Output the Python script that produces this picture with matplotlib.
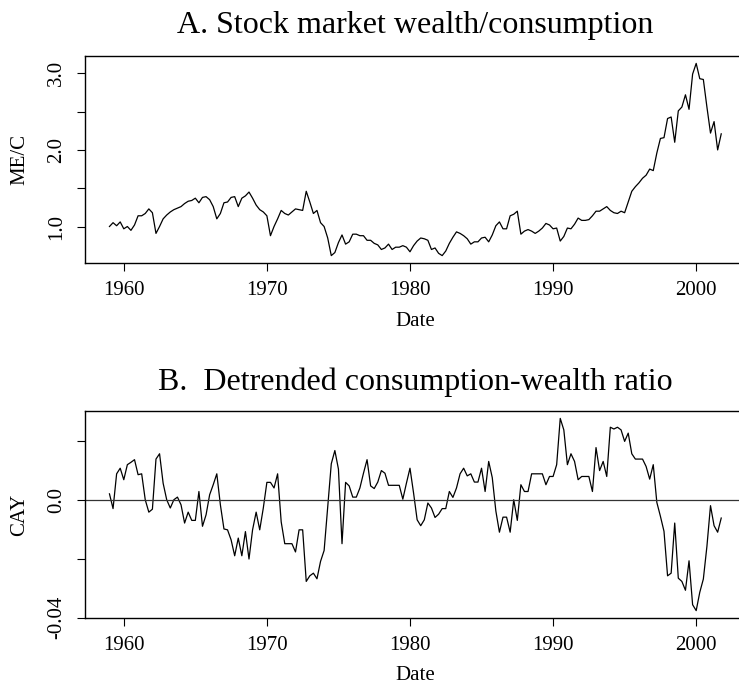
import numpy as np
import matplotlib
matplotlib.use("Agg")
import matplotlib.pyplot as plt

plt.rcParams['font.family'] = ['Liberation Serif', 'DejaVu Serif']

# quarterly data, 1959Q1 - 2001Q4
start_year = 1959

me_c = [
    1.00, 1.05, 1.01, 1.06,   # 1959
    0.97, 1.00, 0.95, 1.02,   # 1960
    1.14, 1.14, 1.17, 1.23,   # 1961
    1.18, 0.91, 1.00, 1.10,   # 1962
    1.15, 1.19, 1.22, 1.24,   # 1963
    1.26, 1.30, 1.33, 1.34,   # 1964
    1.37, 1.31, 1.38, 1.39,   # 1965
    1.35, 1.26, 1.10, 1.17,   # 1966
    1.31, 1.32, 1.38, 1.39,   # 1967
    1.26, 1.37, 1.40, 1.45,   # 1968
    1.37, 1.28, 1.22, 1.19,   # 1969
    1.14, 0.88, 1.00, 1.10,   # 1970
    1.21, 1.17, 1.15, 1.19,   # 1971
    1.23, 1.22, 1.21, 1.46,   # 1972
    1.32, 1.17, 1.21, 1.05,   # 1973
    1.00, 0.85, 0.62, 0.66,   # 1974
    0.79, 0.89, 0.77, 0.80,   # 1975
    0.90, 0.90, 0.88, 0.88,   # 1976
    0.82, 0.82, 0.78, 0.76,   # 1977
    0.70, 0.72, 0.77, 0.70,   # 1978
    0.73, 0.73, 0.75, 0.73,   # 1979
    0.67, 0.75, 0.81, 0.85,   # 1980
    0.84, 0.82, 0.70, 0.72,   # 1981
    0.65, 0.62, 0.68, 0.78,   # 1982
    0.86, 0.93, 0.91, 0.88,   # 1983
    0.84, 0.77, 0.80, 0.80,   # 1984
    0.85, 0.86, 0.80, 0.89,   # 1985
    1.01, 1.06, 0.97, 0.97,   # 1986
    1.14, 1.16, 1.20, 0.90,   # 1987
    0.94, 0.96, 0.94, 0.91,   # 1988
    0.94, 0.98, 1.04, 1.02,   # 1989
    0.97, 0.98, 0.81, 0.87,   # 1990
    0.98, 0.97, 1.03, 1.11,   # 1991
    1.08, 1.08, 1.09, 1.14,   # 1992
    1.20, 1.20, 1.23, 1.26,   # 1993
    1.21, 1.18, 1.17, 1.20,   # 1994
    1.18, 1.32, 1.46, 1.52,   # 1995
    1.57, 1.63, 1.67, 1.75,   # 1996
    1.73, 1.96, 2.15, 2.16,   # 1997
    2.41, 2.43, 2.10, 2.51,   # 1998
    2.56, 2.72, 2.53, 2.99,   # 1999
    3.13, 2.93, 2.92, 2.56,   # 2000
    2.22, 2.37, 2.00, 2.21,   # 2001
]

cay = [
    0.0020, -0.0030, 0.0088, 0.0107,    # 1959
    0.0068, 0.0119, 0.0127, 0.0136,     # 1960
    0.0085, 0.0088, 0.0000, -0.0042,    # 1961
    -0.0032, 0.0138, 0.0156, 0.0056,    # 1962
    0.0000, -0.0028, 0.0000, 0.0009,    # 1963
    -0.0017, -0.0079, -0.0042, -0.0070, # 1964
    -0.0070, 0.0028, -0.0090, -0.0051,  # 1965
    0.0017, 0.0051, 0.0088, -0.0017,    # 1966
    -0.0099, -0.0102, -0.0136, -0.0190, # 1967
    -0.0130, -0.0190, -0.0108, -0.0201, # 1968
    -0.0102, -0.0042, -0.0102, -0.0028, # 1969
    0.0059, 0.0059, 0.0040, 0.0088,     # 1970
    -0.0075, -0.0149, -0.0149, -0.0149, # 1971
    -0.0177, -0.0102, -0.0102, -0.0277, # 1972
    -0.0258, -0.0249, -0.0268, -0.0209, # 1973
    -0.0172, -0.0023, 0.0122, 0.0167,   # 1974
    0.0104, -0.0149, 0.0059, 0.0047,    # 1975
    0.0009, 0.0009, 0.0040, 0.0090,     # 1976
    0.0136, 0.0047, 0.0038, 0.0060,     # 1977
    0.0099, 0.0090, 0.0049, 0.0049,     # 1978
    0.0049, 0.0049, 0.0002, 0.0056,     # 1979
    0.0107, 0.0023, -0.0068, -0.0088,   # 1980
    -0.0068, -0.0011, -0.0028, -0.0060, # 1981
    -0.0049, -0.0030, -0.0030, 0.0028,  # 1982
    0.0008, 0.0040, 0.0088, 0.0107,     # 1983
    0.0081, 0.0088, 0.0060, 0.0060,     # 1984
    0.0107, 0.0028, 0.0130, 0.0075,     # 1985
    -0.0038, -0.0110, -0.0059, -0.0059, # 1986
    -0.0110, 0.0000, -0.0070, 0.0051,   # 1987
    0.0028, 0.0028, 0.0088, 0.0088,     # 1988
    0.0088, 0.0088, 0.0051, 0.0079,     # 1989
    0.0079, 0.0119, 0.0276, 0.0237,     # 1990
    0.0119, 0.0156, 0.0130, 0.0068,     # 1991
    0.0079, 0.0079, 0.0079, 0.0028,     # 1992
    0.0177, 0.0099, 0.0130, 0.0079,     # 1993
    0.0246, 0.0240, 0.0246, 0.0237,     # 1994
    0.0198, 0.0226, 0.0156, 0.0138,     # 1995
    0.0138, 0.0138, 0.0113, 0.0070,     # 1996
    0.0119, -0.0009, -0.0056, -0.0107,  # 1997
    -0.0258, -0.0249, -0.0079, -0.0266, # 1998
    -0.0277, -0.0307, -0.0207, -0.0356, # 1999
    -0.0376, -0.0314, -0.0269, -0.0158, # 2000
    -0.0020, -0.0088, -0.0110, -0.0062, # 2001
]

year_ticks = [1960, 1970, 1980, 1990, 2000]
mec_ticks = [1.0, 1.5, 2.0, 2.5, 3.0]
mec_labels = ['1.0', '', '2.0', '', '3.0']
cay_ticks = [-0.04, -0.02, 0.0, 0.02]
cay_labels = ['-0.04', '', '0.0', '']

dates = start_year + np.arange(len(me_c)) / 4.0

W, H = 739, 685
fig = plt.figure(figsize=(W / 100, H / 100), dpi=100)
fig.patch.set_facecolor('white')

# right edge of the boxes runs past the picture, as in the original
ax_w = 660.7 / W
ax_h = 207.6 / H
ax1 = fig.add_axes([85 / W, 1 - 263.3 / H, ax_w, ax_h])
ax2 = fig.add_axes([85 / W, 1 - 618.3 / H, ax_w, ax_h])


def style(ax, yticks, ylabels):
    ax.margins(x=0.04, y=0.04)
    ax.set_xticks(year_ticks)
    ax.set_xticklabels([str(y) for y in year_ticks], fontsize=15)
    ax.set_yticks(yticks)
    ax.set_yticklabels(ylabels, fontsize=15, rotation=90, va='center')
    ax.tick_params(axis='x', length=5.5, width=0.8, pad=7, direction='out')
    ax.tick_params(axis='y', length=5.5, width=0.8, pad=8, direction='out')
    for s in ax.spines.values():
        s.set_linewidth(1.0)
        s.set_color('black')


ax1.plot(dates, me_c, color='black', lw=0.9)
style(ax1, mec_ticks, mec_labels)

ax2.plot(dates, cay, color='black', lw=0.9)
ax2.axhline(0, color='#333333', lw=0.9)
style(ax2, cay_ticks, cay_labels)

cx = (85 + 745.7) / 2 / W
fig.text(cx, 1 - 33.5 / H, 'A. Stock market wealth/consumption',
         ha='center', va='baseline', fontsize=23)
fig.text(cx, 1 - 390 / H, 'B.  Detrended consumption-wealth ratio',
         ha='center', va='baseline', fontsize=23)

fig.text(cx, 1 - 326 / H, 'Date', ha='center', va='baseline', fontsize=15)
fig.text(cx, 1 - 679.5 / H, 'Date', ha='center', va='baseline', fontsize=15)

fig.text(20 / W, 1 - 159.5 / H, 'ME/C', rotation=90, ha='center', va='center', fontsize=15)
fig.text(20 / W, 1 - 514.5 / H, 'CAY', rotation=90, ha='center', va='center', fontsize=15)

fig.savefig('out.png', dpi=100)
